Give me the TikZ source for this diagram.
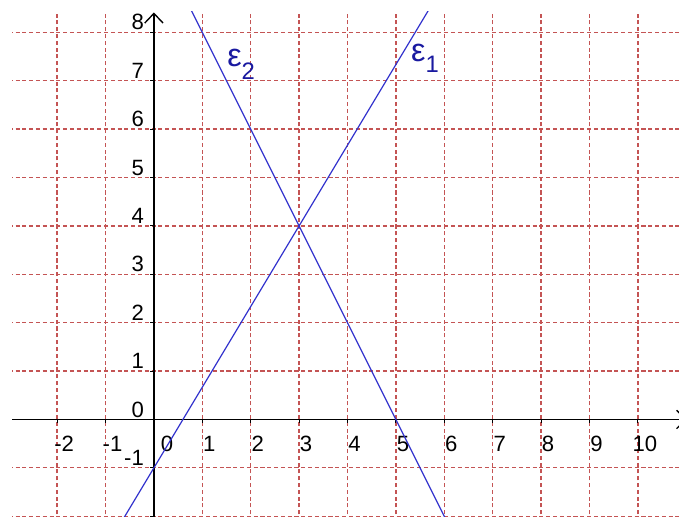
\documentclass[tikz,border=0pt]{standalone}
\usepackage{fontspec}
\setmainfont{Liberation Sans}
\usetikzlibrary{arrows.meta}
\definecolor{gridred}{RGB}{196,84,84}
\definecolor{lineblue}{RGB}{50,50,205}
\definecolor{labelblue}{RGB}{25,25,160}
\begin{document}
\begin{tikzpicture}[
    gridline/.style={gridred, line width=0.75pt, dash pattern=on 2.4pt off 1.6pt},
    axis/.style={black, line width=0.8pt, -{Straight Barb[length=2mm,width=3.8mm]}},
    axtick/.style={black, line width=0.6pt},
    eline/.style={lineblue, line width=0.7pt},
    numlabel/.style={inner sep=0pt, font=\fontsize{13}{15}\selectfont},
    elabel/.style={inner sep=0pt, labelblue, anchor=base west}
  ]

  % Page size and visible window
  \useasboundingbox (-3.18,-1.995) rectangle (10.85,8.667);
  \clip (-2.93,-1.995) rectangle (10.85,8.42);

  % Dashed grid
  \foreach \x in {-2,...,10} \draw[gridline] (\x,-2.1) -- (\x,8.5);
  \foreach \y in {-2,...,8} \draw[gridline] (-3,\y) -- (11,\y);

  % Axes
  \coordinate (xstart) at (-3,0);
  \coordinate (xend) at (11.02,0);
  \coordinate (ystart) at (0,-2.1);
  \coordinate (yend) at (0,8.41);
  \draw[axis] (xstart) -- (xend);
  \draw[axis] (ystart) -- (yend);

  % Ticks
  \foreach \x in {-2,...,10} \draw[axtick] (\x,0) -- (\x,-0.08);
  \foreach \y in {-2,...,8} \draw[axtick] (0,\y) -- (-0.08,\y);

  % Numbers on the axes
  \foreach \x in {-2,-1,1,2,3,4,5,6,7,8,9,10}
    \node[numlabel, anchor=base] (lx\x) at (\x+0.145,-0.66) {\x};
  \node[numlabel, anchor=base] (lx0) at (0.27,-0.66) {0};
  \foreach \y in {-1,...,8}
    \node[numlabel, anchor=base east] (ly\y) at (-0.2,\y+0.05) {\y};

  % The two lines, crossing at (3,4)
  \coordinate (e1a) at (-0.72,-2.2);
  \coordinate (e1b) at (5.76,8.6);
  \coordinate (e2a) at (0.7,8.6);
  \coordinate (e2b) at (6.1,-2.2);
  \draw[eline] (e1a) -- (e1b);
  \draw[eline] (e2a) -- (e2b);

  % Line names
  \node[elabel] (eps1) at (5.31,7.39)
    {{\fontsize{19}{20}\selectfont ε}{\fontsize{14}{15}\selectfont\raisebox{-6.5pt}{1}}};
  \node[elabel] (eps2) at (1.51,7.29)
    {{\fontsize{19}{20}\selectfont ε}{\fontsize{14}{15}\selectfont\raisebox{-7.6pt}{2}}};

\end{tikzpicture}
\end{document}
